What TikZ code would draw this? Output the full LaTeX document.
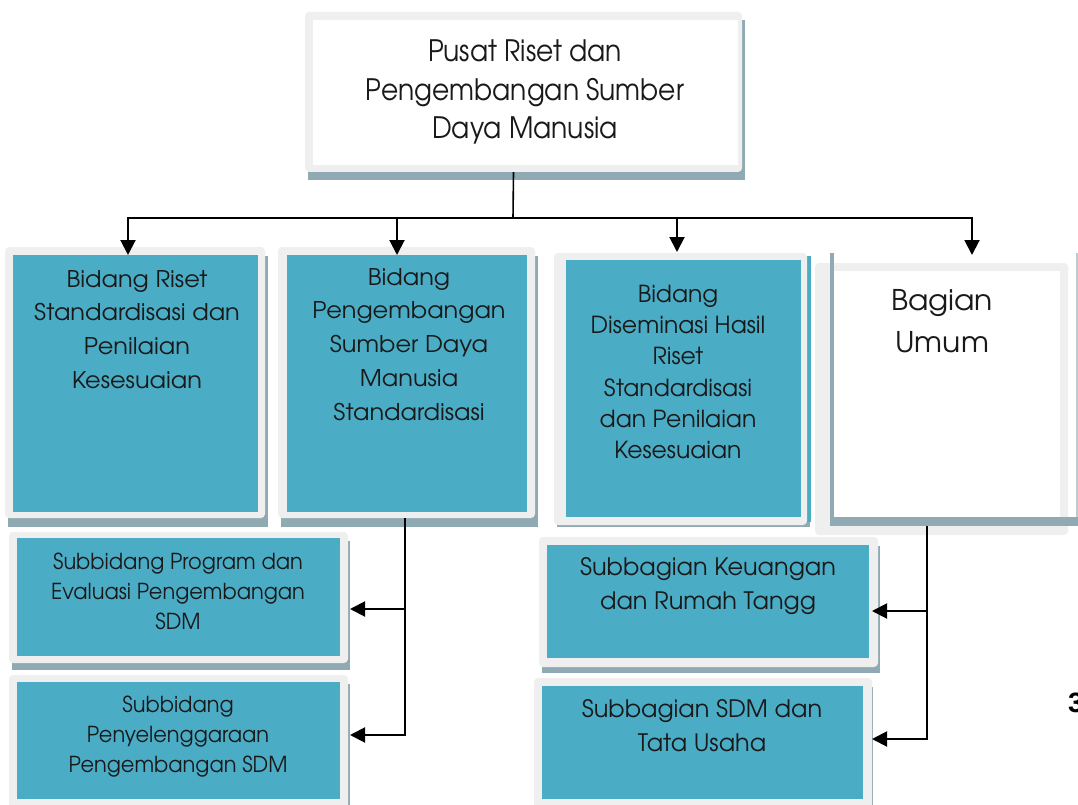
\documentclass[tikz,border=0pt]{standalone}
\usepackage{fontspec}
\setmainfont{TeX Gyre Adventor}
\newfontfamily\topfont[FakeStretch=0.9]{TeX Gyre Adventor}
\newfontfamily\widefont[FakeStretch=1.045]{TeX Gyre Adventor}
\newfontfamily\narrowfont[FakeStretch=0.95]{TeX Gyre Adventor}
\newfontfamily\numfont{Liberation Sans}
\usetikzlibrary{arrows.meta,calc,fit}
\definecolor{teal1}{HTML}{4BACC6}
\definecolor{frameg}{HTML}{EFEFEF}
\definecolor{shadowc}{HTML}{8FAAB3}
\tikzset{
  conn/.style={line width=2pt, black},
  arr/.style={conn, -{Triangle[length=15pt,width=15pt]}},
  shad/.style={fill=shadowc},
  frm/.style={fill=frameg, rounded corners=4pt},
  inbox/.style={inner sep=0pt, draw=none},
  txt/.style={align=center, inner sep=0pt, anchor=north, text=black!90},
}
\begin{document}
\begin{tikzpicture}[x=1pt,y=-1pt]
\useasboundingbox (0,0) rectangle (1078,805);
\fill[white] (0,0) rectangle (1078,805);

% ---- top box
\fill[shad] (308,20) rectangle (745,180);
\fill[frm] (305,12) rectangle (742,172);
\node[inbox, fill=white, fit={(313,20) (738,165)}] (pusat) {};
\node[txt, font=\topfont\fontsize{29.5}{38.5}\selectfont] (pusatt) at (525,40)
  {Pusat Riset dan\\Pengembangan Sumber\\Daya Manusia};

% ---- Bidang 1
\fill[shad] (8,256) rectangle (268,527);
\fill[frm] (5,247) rectangle (265,518);
\node[inbox, fill=teal1, fit={(13,255) (258,512)}] (b1) {};
\node[txt, font=\widefont\fontsize{23}{33.7}\selectfont] (b1t) at (137,270)
  {Bidang Riset\\Standardisasi dan\\Penilaian\\Kesesuaian};

% ---- Bidang 2
\fill[shad] (281,256) rectangle (538,527);
\fill[frm] (278,247) rectangle (535,518);
\node[inbox, fill=teal1, fit={(287,255) (527,512)}] (b2) {};
\node[txt, font=\widefont\fontsize{23}{33.7}\selectfont] (b2t) at (409,268)
  {Bidang\\Pengembangan\\Sumber Daya\\Manusia\\Standardisasi};

% ---- Bidang 3
\fill[shad] (557,262) rectangle (810,527);
\fill[teal1] (807,256) rectangle (811,522);
\fill[frm] (554,253) rectangle (807,525);
\node[inbox, fill=teal1, fit={(566,260) (801,517)}] (b3) {};
\node[txt, font=\fontsize{23.5}{31.2}\selectfont] (b3t) at (678,285)
  {Bidang\\Diseminasi Hasil\\Riset\\Standardisasi\\dan Penilaian\\Kesesuaian};

% ---- Bagian Umum
\fill[frm] (815,263) rectangle (1068,535);
\node[inbox, fill=white, fit={(834,271) (1060,517)}] (bu) {};
\fill[shadowc] (830,253) rectangle (834,526);
\fill[shadowc] (830,517) rectangle (1078,526);
\fill[shadowc!60] (1076,253) rectangle (1078,517);
\node[txt, font=\widefont\fontsize{28.5}{42}\selectfont] (but) at (942,289)
  {Bagian\\Umum};

% ---- Subbidang 1
\fill[shad] (12,541) rectangle (350,670);
\fill[frm] (9,532) rectangle (348,663);
\node[inbox, fill=teal1, fit={(17,538) (340,656)}] (s1) {};
\node[txt, font=\narrowfont\fontsize{22}{30}\selectfont] (s1t) at (178,553)
  {Subbidang Program dan\\Evaluasi Pengembangan\\SDM};

% ---- Subbidang 2
\fill[shad] (12,684) rectangle (350,815);
\fill[frm] (9,675) rectangle (348,815);
\node[inbox, fill=teal1, fit={(17,682) (340,799)}] (s2) {};
\node[txt, font=\narrowfont\fontsize{22}{30}\selectfont] (s2t) at (178,696)
  {Subbidang\\Penyelenggaraan\\Pengembangan SDM};

% ---- Subbagian 1
\fill[shad] (542,546) rectangle (880,673);
\fill[frm] (539,537) rectangle (878,667);
\node[inbox, fill=teal1, fit={(547,545) (869,658)}] (s3) {};
\node[txt, font=\fontsize{24}{34}\selectfont] (s3t) at (708,557)
  {Subbagian Keuangan\\dan Rumah Tangg};

% ---- Subbagian 2
\fill[shad] (537,687) rectangle (873,815);
\fill[frm] (534,678) rectangle (872,815);
\node[inbox, fill=teal1, fit={(542,686) (863,799)}] (s4) {};
\node[txt, font=\fontsize{24}{34}\selectfont] (s4t) at (702,699)
  {Subbagian SDM dan\\Tata Usaha};

% ---- connectors
\coordinate (hub) at (513,218);
\coordinate (tb1) at (128,255);
\coordinate (tb2) at (397,255);
\coordinate (tb3) at (677,252);
\coordinate (tbu) at (972,255);
\draw[conn, line width=1.6pt] ([shift={(-12,7)}]pusat.south) -- (hub);
\draw[arr] (hub) -| (tb1);
\draw[arr] (hub) -| (tb2);
\draw[arr] (hub) -| (tb3);
\draw[arr] (hub) -| (tbu);

\coordinate (ta1) at (350,609);
\coordinate (ta2) at (350,735);
\draw[arr] ([shift={(-2,6)}]b2.south) |- (ta1);
\draw[arr] ([shift={(-2,6)}]b2.south) |- (ta2);

\coordinate (tc1) at (872,611);
\coordinate (tc2) at (872,739);
\draw[arr] ([shift={(-20,9)}]bu.south) |- (tc1);
\draw[arr] ([shift={(-20,9)}]bu.south) |- (tc2);

% ---- page number fragment (cut by the page edge, as in the reference)
\node[font=\numfont\bfseries\fontsize{28}{28}\selectfont, anchor=base west, inner sep=0pt] (pg) at (1068,712) {3};
\end{tikzpicture}
\end{document}
